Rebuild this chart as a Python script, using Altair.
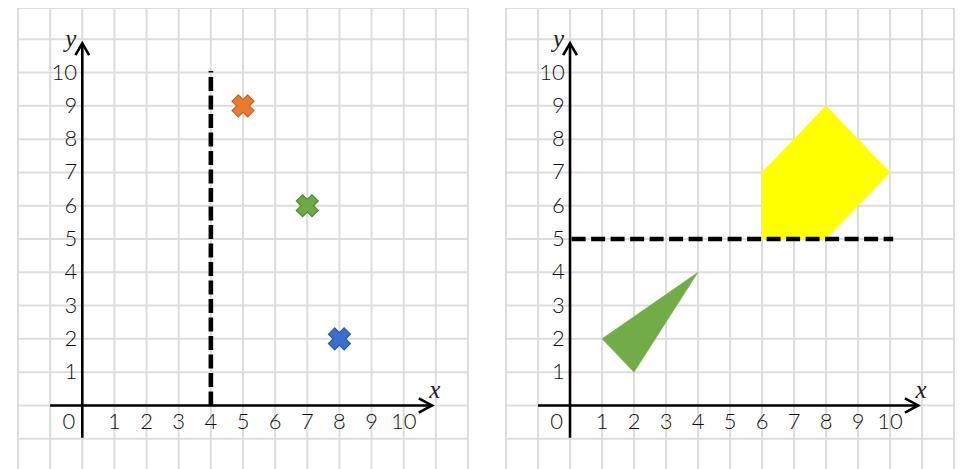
import altair as alt
import pandas as pd

# ---- data ----
tick_values = list(range(1, 11))
grid_x_values = list(range(-2, 13))
grid_y_values = list(range(-2, 12))

cross_x = [5, 7, 8]
cross_y = [9, 6, 2]
cross_fill = ["#EC7A2E", "#6CAA45", "#3D6FC9"]
cross_edge = ["#C9611F", "#4F8A31", "#2B56A8"]

mirror_left_x = 4
mirror_left_y = [0, 10]

tri_x = [1, 2, 4]
tri_y = [2, 1, 4]
pent_x = [6, 6, 8, 10, 8]
pent_y = [5, 7, 9, 7, 5]

mirror_right_y = 5
mirror_right_x = [0, 10]

# ---- styles / constants ----
X_DOMAIN = [-2, 12]
Y_DOMAIN = [-2, 11.94]
AXIS_START = -1
AXIS_END = 10.88
GRID_COLOR = "#dddddd"
LABEL_FONT = "Lato"
TITLE_FONT = "Liberation Serif"
ARROW_X = "M-1,-0.54L0,0L-1,0.54"
ARROW_Y = "M-0.58,1L0,0L0.58,1"

dummy = pd.DataFrame({"k": [0]})


def xs(field=None, datum=None):
    sc = alt.Scale(domain=X_DOMAIN, nice=False, zero=False)
    if field is not None:
        return alt.X(field, type="quantitative", scale=sc, axis=None)
    return alt.X(datum=datum, type="quantitative", scale=sc, axis=None)


def ys(field=None, datum=None):
    sc = alt.Scale(domain=Y_DOMAIN, nice=False, zero=False)
    if field is not None:
        return alt.Y(field, type="quantitative", scale=sc, axis=None)
    return alt.Y(datum=datum, type="quantitative", scale=sc, axis=None)


def axes_layers():
    ticks_df = pd.DataFrame({"v": tick_values, "t": [str(v) for v in tick_values]})
    vgrid = alt.Chart(pd.DataFrame({"g": grid_x_values})).mark_rule(
        color=GRID_COLOR, strokeWidth=2).encode(
        x=xs("g"), y=ys(datum=Y_DOMAIN[0]), y2=alt.Y2(datum=Y_DOMAIN[1]))
    hgrid = alt.Chart(pd.DataFrame({"g": grid_y_values})).mark_rule(
        color=GRID_COLOR, strokeWidth=2).encode(
        y=ys("g"), x=xs(datum=X_DOMAIN[0]), x2=alt.X2(datum=X_DOMAIN[1]))
    xaxis = alt.Chart(dummy).mark_rule(color="black", strokeWidth=2.6).encode(
        x=xs(datum=AXIS_START), x2=alt.X2(datum=AXIS_END), y=ys(datum=0))
    yaxis = alt.Chart(dummy).mark_rule(color="black", strokeWidth=2.6).encode(
        y=ys(datum=AXIS_START + 0.03), y2=alt.Y2(datum=AXIS_END), x=xs(datum=0))
    xarrow = alt.Chart(dummy).mark_point(shape=ARROW_X, filled=False, size=700,
                                         stroke="black", strokeWidth=2.6,
                                         opacity=1, strokeJoin="miter").encode(
        x=xs(datum=AXIS_END), y=ys(datum=0))
    yarrow = alt.Chart(dummy).mark_point(shape=ARROW_Y, filled=False, size=560,
                                         stroke="black", strokeWidth=2.6,
                                         opacity=1, strokeJoin="miter").encode(
        x=xs(datum=0), y=ys(datum=AXIS_END))
    xlab = alt.Chart(ticks_df).mark_text(font=LABEL_FONT, fontSize=22, fontWeight=300,
                                         color="#111111", align="center",
                                         baseline="middle").encode(
        x=xs("v"), y=ys(datum=-0.5), text="t:N")
    ylab = alt.Chart(ticks_df).mark_text(font=LABEL_FONT, fontSize=22, fontWeight=300,
                                         color="#111111", align="right",
                                         baseline="middle").encode(
        x=xs(datum=-0.16), y=ys("v"), text="t:N")
    zero = alt.Chart(dummy).mark_text(text="0", font=LABEL_FONT, fontSize=22,
                                      fontWeight=300, color="#111111",
                                      align="center", baseline="middle").encode(
        x=xs(datum=-0.42), y=ys(datum=-0.5))
    xt = alt.Chart(dummy).mark_text(text="x", font=TITLE_FONT, fontSize=25,
                                    fontStyle="italic", color="#222222",
                                    align="center", baseline="middle").encode(
        x=xs(datum=10.97), y=ys(datum=0.45))
    yt = alt.Chart(dummy).mark_text(text="y", font=TITLE_FONT, fontSize=25,
                                    fontStyle="italic", color="#222222",
                                    align="center", baseline="middle").encode(
        x=xs(datum=-0.36), y=ys(datum=11.0))
    return [vgrid, hgrid], [xaxis, yaxis, xarrow, yarrow, xlab, ylab, zero, xt, yt]


# ---- left panel ----
gridL, axL = axes_layers()
cross_df = pd.DataFrame({"x": cross_x, "y": cross_y, "f": cross_fill, "s": cross_edge})
crosses = alt.Chart(cross_df).mark_point(shape="cross", angle=45, filled=True,
                                         size=490, strokeWidth=1.2, opacity=1).encode(
    x=xs("x"), y=ys("y"),
    fill=alt.Fill("f:N", scale=None), stroke=alt.Stroke("s:N", scale=None))
dashL = alt.Chart(dummy).mark_rule(color="black", strokeWidth=4.6,
                                   strokeDash=[14, 4.5]).encode(
    x=xs(datum=mirror_left_x), y=ys(datum=mirror_left_y[0]),
    y2=alt.Y2(datum=mirror_left_y[1] + 0.05))
left = alt.layer(*gridL, *axL, dashL, crosses).properties(width=450, height=464)

# ---- right panel ----
gridR, axR = axes_layers()
tri_df = pd.DataFrame({"x": tri_x, "y": tri_y, "o": list(range(len(tri_x)))})
pent_df = pd.DataFrame({"x": pent_x, "y": pent_y, "o": list(range(len(pent_x)))})
tri = alt.Chart(tri_df).mark_line(fill="#70AD47", stroke="#70AD47", strokeWidth=0.5,
                                  interpolate="linear-closed").encode(
    x=xs("x"), y=ys("y"), order="o:Q")
pent = alt.Chart(pent_df).mark_line(fill="#FFFF00", stroke="#FFFF00", strokeWidth=0.5,
                                    interpolate="linear-closed").encode(
    x=xs("x"), y=ys("y"), order="o:Q")
dashR = alt.Chart(dummy).mark_rule(color="black", strokeWidth=4.6,
                                   strokeDash=[14, 5.5]).encode(
    y=ys(datum=mirror_right_y), x=xs(datum=mirror_right_x[0] + 0.05),
    x2=alt.X2(datum=mirror_right_x[1] + 0.1))
right = alt.layer(*gridR, tri, pent, *axR, dashR).properties(width=448, height=464)

chart = alt.hconcat(left, right, spacing=34).properties(
    padding={"left": 8, "top": -2, "right": 0, "bottom": 0}
).configure_view(stroke=GRID_COLOR, strokeWidth=2)

chart.save("out.html", embed_options={"renderer": "svg", "actions": False})
